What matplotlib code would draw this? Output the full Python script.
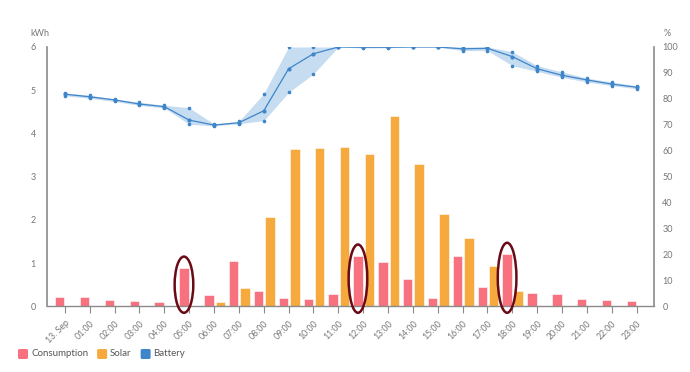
import matplotlib
matplotlib.use("Agg")
import matplotlib.pyplot as plt
from matplotlib.patches import Ellipse, FancyBboxPatch
import numpy as np

plt.rcParams['font.family'] = ['Lato', 'DejaVu Sans']

# ---- data ----
hours = ["13. Sep", "01:00", "02:00", "03:00", "04:00", "05:00", "06:00", "07:00",
         "08:00", "09:00", "10:00", "11:00", "12:00", "13:00", "14:00", "15:00",
         "16:00", "17:00", "18:00", "19:00", "20:00", "21:00", "22:00", "23:00"]

consumption = [0.22, 0.22, 0.15, 0.12, 0.11, 0.88, 0.25, 1.05, 0.36, 0.20, 0.18, 0.29,
               1.16, 1.03, 0.63, 0.19, 1.16, 0.45, 1.20, 0.31, 0.29, 0.18, 0.15, 0.12]
solar = [0, 0, 0, 0, 0, 0, 0.09, 0.42, 2.06, 3.64, 3.66, 3.69,
         3.53, 4.40, 3.30, 2.14, 1.58, 0.93, 0.36, 0, 0, 0, 0, 0]

battery = [81.8, 80.8, 79.6, 78.0, 77.0, 71.8, 69.9, 70.8, 75.4, 91.6, 97.4, 100.0,
           99.9, 99.9, 100.0, 100.0, 99.3, 99.5, 96.3, 91.6, 89.1, 87.3, 85.7, 84.5]
battery_low = [81.2, 80.2, 79.0, 77.5, 76.5, 70.2, 69.6, 70.4, 71.6, 82.5, 89.6, 100.0,
               99.6, 99.7, 100.0, 100.0, 98.6, 98.6, 92.8, 90.6, 88.3, 86.5, 85.1, 83.9]
battery_high = [82.3, 81.4, 79.9, 78.7, 77.5, 76.6, 70.3, 71.3, 82.0, 100.0, 100.0, 100.0,
                100.0, 100.0, 100.0, 100.0, 100.0, 100.0, 98.2, 92.8, 90.4, 88.0, 86.5, 85.0]

highlighted = ["05:00", "12:00", "18:00"]

kwh_ticks = [0, 1, 2, 3, 4, 5, 6]
pct_ticks = list(range(0, 101, 10))

# ---- style ----
c_cons = "#f7717e"
c_solar = "#f6a93c"
c_batt = "#3f85c9"
c_fill = "#bcd6ef"
c_axis = "#8a8a8a"
c_text = "#777777"
c_ring = "#6a0a16"

fig = plt.figure(figsize=(6.9, 3.72), dpi=100)
ax = fig.add_axes([47 / 690, 1 - 306.3 / 372, (654 - 47) / 690, (306.3 - 47) / 372])

x = np.arange(len(hours))
w = 0.38
ax.bar(x - 0.21, consumption, width=w, color=c_cons, edgecolor="white", linewidth=0.4, zorder=2)
ax.bar(x + 0.25, solar, width=w, color=c_solar, edgecolor="white", linewidth=0.4, zorder=2)

ax.set_xlim(-0.72, 23.7)
ax.set_ylim(0, 6)
ax.set_yticks(kwh_ticks)
ax.set_xticks(x)
ax.set_xticklabels(hours, rotation=45, ha="right", va="top", rotation_mode="anchor",
                   fontsize=6.3, color=c_text)
ax.tick_params(axis="x", length=5, width=0.8, color=c_axis, pad=4)
ax.tick_params(axis="y", length=0, labelsize=6.5, labelcolor=c_text, pad=8)
for side in ["top", "right"]:
    ax.spines[side].set_visible(False)
ax.spines["left"].set_color(c_axis)
ax.spines["bottom"].set_color(c_axis)
ax.spines["left"].set_linewidth(1.2)
ax.spines["bottom"].set_linewidth(1.0)

# battery on secondary axis
ax2 = ax.twinx()
ax2.set_ylim(0, 100)
ax2.set_yticks(pct_ticks)
ax2.tick_params(axis="y", length=0, labelsize=6.5, labelcolor=c_text, pad=6)
for side in ["top", "left", "bottom"]:
    ax2.spines[side].set_visible(False)
ax2.spines["right"].set_color(c_axis)
ax2.spines["right"].set_linewidth(1.2)
ax2.fill_between(x, battery_low, battery_high, color=c_fill, alpha=0.85, linewidth=0, zorder=1)
ax2.plot(x, battery_low, ls="none", marker="o", ms=1.6, color=c_batt, zorder=3)
ax2.plot(x, battery_high, ls="none", marker="o", ms=1.6, color=c_batt, zorder=3)
ax2.plot(x, battery, color=c_batt, lw=0.9, marker="o", ms=2, zorder=4)

# rings drawn around some consumption bars
for h in highlighted:
    i = hours.index(h)
    v = consumption[i]
    ring = Ellipse((i - 0.21, v * 0.5 + 0.06), width=0.75, height=v + 0.42,
                   fill=False, edgecolor=c_ring, lw=1.8, zorder=5, clip_on=False)
    ax.add_patch(ring)

fig.text(30 / 690, 1 - 33 / 372, "kWh", fontsize=6.5, color=c_text, va="center")
fig.text(664 / 690, 1 - 33 / 372, "%", fontsize=6.5, color=c_text, va="center")

# legend
legend_items = [("Consumption", c_cons), ("Solar", c_solar), ("Battery", c_batt)]
lx = 18
for name, col in legend_items:
    box = FancyBboxPatch((lx / 690, 1 - 359 / 372), 10 / 690, 10 / 372,
                         boxstyle="round,pad=0,rounding_size=0.003", transform=fig.transFigure,
                         facecolor=col, edgecolor="none")
    fig.patches.append(box)
    t = fig.text((lx + 13) / 690, 1 - 354 / 372, name, fontsize=7, color="#555555", va="center")
    fig.canvas.draw()
    bb = t.get_window_extent()
    lx = bb.x1 + 9

fig.savefig("out.png", dpi=100)
